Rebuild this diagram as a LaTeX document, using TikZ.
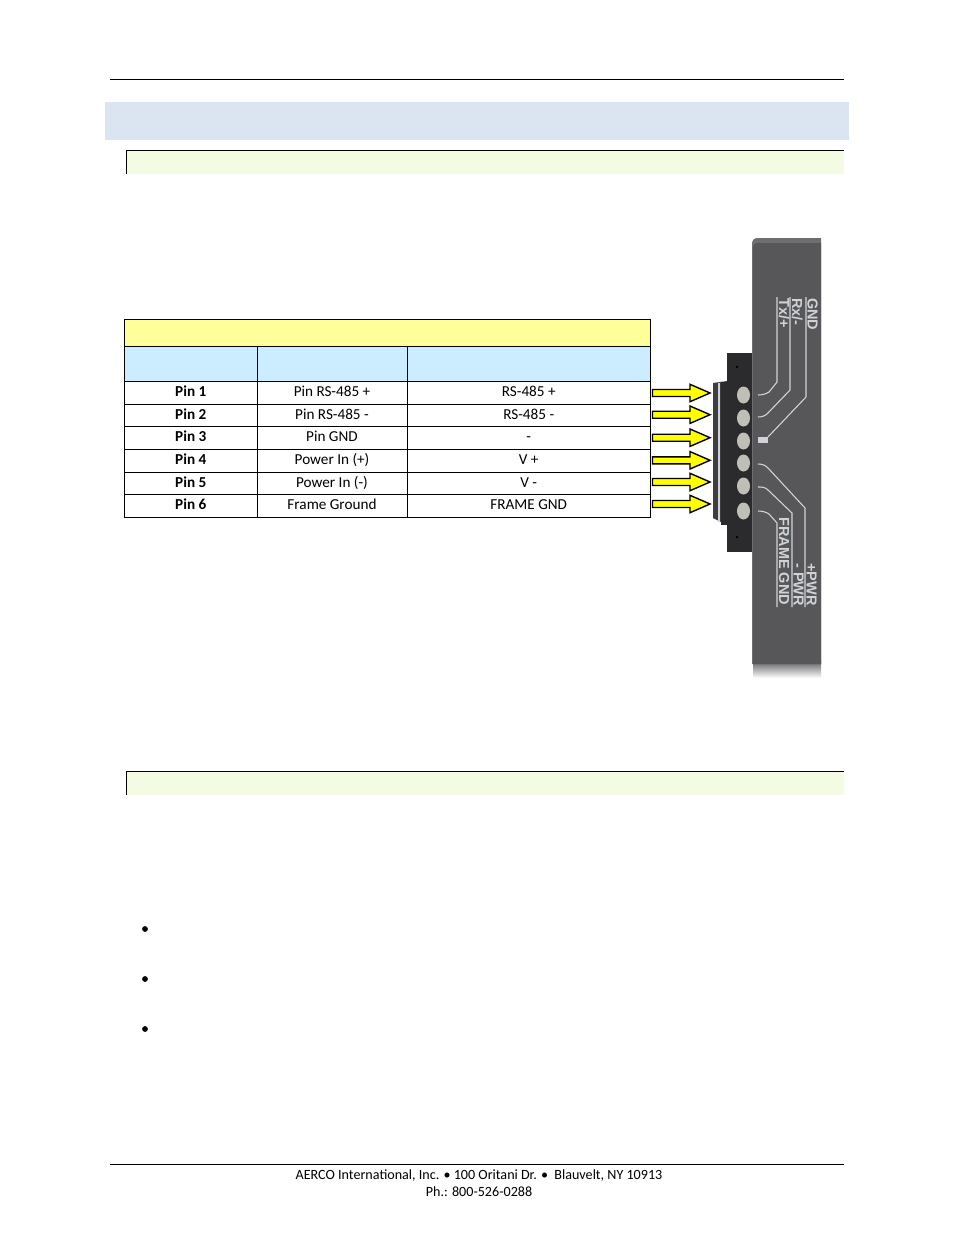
\documentclass[tikz,border=0pt]{standalone}
\usepackage{fontspec}
\usetikzlibrary{shapes.geometric}
\setmainfont{Carlito}
\newfontfamily\devfont{Liberation Sans}
\definecolor{banner}{HTML}{DBE5F1}
\definecolor{subbar}{HTML}{F3FBE3}
\definecolor{headyel}{HTML}{FFFF99}
\definecolor{headblue}{HTML}{CCECFF}
\definecolor{arrowyel}{HTML}{FFFF00}
\definecolor{devbody}{HTML}{575759}
\definecolor{devedge}{HTML}{6E6E70}
\definecolor{blockdark}{HTML}{2B2B2D}
\definecolor{plate}{HTML}{3E3E40}
\definecolor{screw}{HTML}{BFBFB8}
\definecolor{silk}{HTML}{CFD3D8}
\tikzset{
  rulelinepx/.style={line width=1pt,black},
  cell/.style={draw=black,line width=0.9pt,rectangle,inner sep=0pt,outer sep=0pt,text height=10.2pt,text depth=2.3pt,font=\fontsize{15.2}{17}\selectfont,text=black,anchor=north west},
  boldcell/.style={cell,font=\fontsize{15.2}{17}\selectfont\bfseries},
  yelarrow/.style={draw=black,fill=arrowyel,line width=1.4pt,line join=miter},
  silkline/.style={draw=silk,line width=1.1pt,line join=round},
  silktext/.style={text=silk,rotate=-90,inner sep=0pt,anchor=west,text height=11pt,text depth=0pt,font=\devfont\bfseries\fontsize{14.5}{15}\selectfont},
  screwhead/.style={fill=screw,draw=none,ellipse,minimum width=13,minimum height=17,inner sep=0pt},
  footertext/.style={font=\fontsize{14.1}{16}\selectfont,text=black,inner sep=0pt}
}
\begin{document}
\begin{tikzpicture}[x=1pt,y=-1pt]
\useasboundingbox (0,0) rectangle (954,1235);
\fill[white] (0,0) rectangle (954,1235);
% page rules and bars
\draw[rulelinepx] (110,79.5) -- (844,79.5);
\fill[banner] (105,102) rectangle (849,140);
\fill[subbar] (127,151) rectangle (844,174);
\draw[rulelinepx] (126.5,174) -- (126.5,150.5) -- (844,150.5);
\fill[subbar] (127,771) rectangle (844,795);
\draw[rulelinepx] (126.5,795) -- (126.5,771.5) -- (844,771.5);
% table
\node[cell,fill=headyel,minimum width=526,minimum height=27] (title) at (124.5,319.5) {};
\node[cell,fill=headblue,minimum width=132.5,minimum height=35] (h1) at (124.5,346.5) {};
\node[cell,fill=headblue,minimum width=150,minimum height=35] (h2) at (257,346.5) {};
\node[cell,fill=headblue,minimum width=243.5,minimum height=35] (h3) at (407,346.5) {};
\foreach \n/\y/\h/\a/\b/\c in {
 1/381.5/22.5/Pin 1/Pin RS-485 +/RS-485 +,
 2/404/22.5/Pin 2/Pin RS-485 -/RS-485 -,
 3/426.5/23/Pin 3/Pin GND/-,
 4/449.5/22.5/Pin 4/Power In (+)/V +,
 5/472/22.5/Pin 5/Power In (-)/V -,
 6/494.5/22.5/Pin 6/Frame Ground/FRAME GND}{
  \node[boldcell,minimum width=132.5,minimum height=\h] (pin\n) at (124.5,\y) {\a};
  \node[cell,minimum width=150,minimum height=\h] (name\n) at (257,\y) {\b};
  \node[cell,minimum width=243.5,minimum height=\h] (func\n) at (407,\y) {\c};
}
% device: body
\shade[top color=devbody,bottom color=white] (753,660) rectangle (821,678);
\fill[devedge] (752,664) -- (752,244) .. controls (752,240) and (754,238) .. (758,238) -- (821,238) -- (821,664) -- cycle;
\fill[devbody] (753,664) -- (753,247) .. controls (753,244) and (755,243) .. (758,243) -- (821,243) -- (821,664) -- cycle;
% terminal block
\fill[blockdark] (727,353) rectangle (752,552);
\fill[plate] (713,383) -- (727,381) -- (727,525) -- (713,518) -- cycle;
\fill[silk] (718,383) rectangle (719.5,522);
\fill[blockdark] (721,382) rectangle (752,525);
\fill[black] (737,367) circle[radius=1.3];
\fill[black] (737,537) circle[radius=1.3];
\foreach \n/\y in {1/395,2/418,3/441,4/463,5/486,6/511}{
  \node[screwhead] (screw\n) at (743.5,\y) {};
}
% silk screen
\draw[silkline] (777,297) -- (777,382) -- (769,392) .. controls (766,394) and (762,395) .. (758,395);
\draw[silkline] (790,297) -- (790,390) -- (768,413) .. controls (765,416) and (762,417) .. (758,417);
\draw[silkline] (806,297) -- (806,397) -- (768,437);
\fill[silk] (758,437) rectangle (768,443);
\draw[silkline] (805,607) -- (805,508) -- (768,468) .. controls (765,465) and (762,464) .. (758,464);
\draw[silkline] (792,607) -- (792,513) -- (768,490) .. controls (765,487) and (762,487) .. (758,487);
\draw[silkline] (777,607) -- (777,523) -- (769,514) .. controls (766,512) and (762,511) .. (758,511);
\node[silktext] (gnd) at (813,298) {GND};
\node[silktext] (rx) at (797.5,298) {Rx/-};
\node[silktext] (tx) at (784.5,298) {Tx/+};
\node[silktext] (ppwr) at (812,563) {+PWR};
\node[silktext] (mpwr) at (799,563) {- PWR};
\node[silktext] (fgnd) at (784.5,517) {FRAME GND};
% arrows
\foreach \y in {393,414.7,437.7,460.3,482,504}{
  \draw[yelarrow] (652.5,\y-3.5) -- (690,\y-3.5) -- (690,\y-8.7) -- (710,\y) -- (690,\y+8.7) -- (690,\y+3.5) -- (652.5,\y+3.5) -- cycle;
}
% bullets
\foreach \n/\y in {1/929,2/979,3/1029}{
  \fill[black] (145,\y) circle[radius=2.9];
}
% footer
\draw[rulelinepx] (110,1164.5) -- (844,1164.5);
\node[footertext] (foot1) at (479,1175) {AERCO International, Inc. • 100 Oritani Dr. •~~Blauvelt, NY 10913};
\node[footertext] (foot2) at (479,1192) {Ph.: 800-526-0288};
\end{tikzpicture}
\end{document}
